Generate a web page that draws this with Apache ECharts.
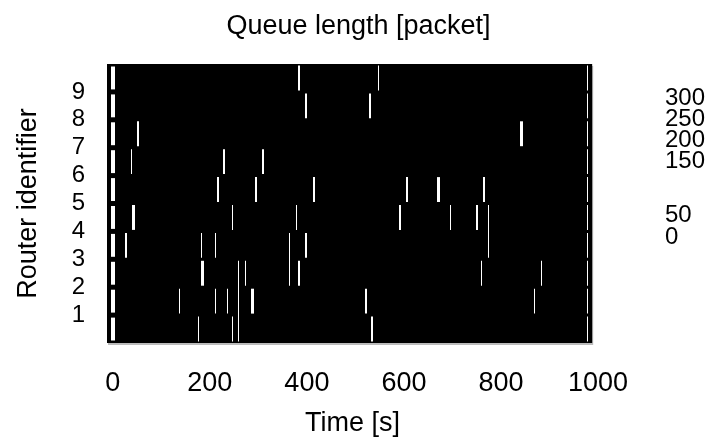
<!DOCTYPE html>
<html>
<head>
<meta charset="utf-8">
<script src="https://cdn.jsdelivr.net/npm/echarts@6/dist/echarts.min.js"></script>
<style>
  html, body { margin: 0; padding: 0; background: #fff; }
  #chart { width: 717px; height: 447px; }
</style>
</head>
<body>
<div id="chart"></div>
<script>
// ticks
const xTicks = [0, 200, 400, 600, 800, 1000];
const routerTicks = [1, 2, 3, 4, 5, 6, 7, 8, 9];
const colorbarLabels = ['300', '250', '200', '150', '50', '0'];

// time span covered by the image [s]
const timeSpan = [-12, 988];

// bars present in every row (start of run, end of run) [s]
const edgeBars = [[-4, 4], [977, 979]];

// queue spikes per row, [start, end] in seconds (row 0 = bottom)
const row0 = [[175, 177], [246, 248], [533, 537]];
const row1 = [[136, 138], [210, 212], [235, 237], [284, 290], [520, 524], [868, 870]];
const row2 = [[181, 187], [272, 274], [382, 386], [759, 761], [882, 884]];
const row3 = [[26, 30], [182, 184], [210, 212], [396, 400]];
const row4 = [[39, 45], [246, 248], [377, 379], [590, 594], [694, 696], [748, 752]];
const row5 = [[214, 218], [293, 297], [412, 416], [604, 608], [669, 675], [763, 767]];
const row6 = [[37, 39], [228, 232], [307, 311]];
const row7 = [[49, 53], [839, 845]];
const row8 = [[396, 400], [529, 533]];
const row9 = [[381, 385], [546, 548]];
const rows = [row0, row1, row2, row3, row4, row5, row6, row7, row8, row9];

// spikes that run over several rows: [start, end, fromRow, toRow]
const spanning = [[258, 260, 0, 2], [363, 365, 2, 3], [773, 775, 3, 4]];

// build custom series data: [start, end, fromRow, toRow, inset]
const spikeData = [];
rows.forEach(function (list, r) {
    edgeBars.forEach(function (b, i) { spikeData.push([b[0], b[1], r, r, i === 0 ? 2.5 : 1.5]); });
    list.forEach(function (s) { spikeData.push([s[0], s[1], r, r, 1.5]); });
});
spanning.forEach(function (s) { spikeData.push([s[0], s[1], s[2], s[3], 1.5]); });

var dom = document.getElementById('chart');
var myChart = echarts.init(dom, null, { renderer: 'canvas' });

const font = 'Liberation Sans';
const colorbarY = [98, 119, 140, 161, 215, 237];

const option = {
    animation: false,
    title: {
        text: 'Queue length [packet]',
        left: 'center',
        top: 8,
        textStyle: { fontFamily: font, fontSize: 27, fontWeight: 'normal', color: '#000' }
    },
    grid: { left: 107, right: 119, top: 64, bottom: 104 },
    xAxis: {
        type: 'value',
        min: -12,
        max: 1000,
        name: 'Time [s]',
        nameLocation: 'middle',
        nameGap: 67,
        nameTextStyle: { fontFamily: font, fontSize: 27, color: '#000' },
        axisLine: { show: false },
        axisTick: { show: false },
        splitLine: { show: false },
        axisLabel: {
            customValues: xTicks,
            formatter: function (v) { return String(v); },
            margin: 27,
            fontFamily: font,
            fontSize: 27,
            color: '#000'
        }
    },
    yAxis: {
        type: 'value',
        min: 0,
        max: 10,
        name: 'Router identifier',
        nameLocation: 'middle',
        nameGap: 65,
        nameTextStyle: { fontFamily: font, fontSize: 27, color: '#000' },
        axisLine: { show: false },
        axisTick: { show: false },
        splitLine: { show: false },
        axisLabel: {
            customValues: routerTicks,
            margin: 22,
            fontFamily: font,
            fontSize: 24,
            color: '#000'
        }
    },
    graphic: colorbarLabels.map(function (t, i) {
        return {
            type: 'text',
            x: 665,
            y: colorbarY[i],
            style: {
                text: t,
                font: '24px "Liberation Sans"',
                fill: '#000',
                align: 'left',
                verticalAlign: 'middle'
            }
        };
    }),
    series: [
        {
            type: 'custom',
            silent: true,
            data: [[timeSpan[0], timeSpan[1]]],
            encode: { x: [0, 1] },
            renderItem: function (params, api) {
                var p0 = api.coord([api.value(0), 10]);
                var p1 = api.coord([api.value(1), 0]);
                return {
                    type: 'rect',
                    shape: { x: p0[0], y: p0[1], width: p1[0] - p0[0], height: p1[1] - p0[1] },
                    style: { fill: '#000', shadowColor: '#bbb', shadowOffsetX: 1, shadowOffsetY: 2 }
                };
            }
        },
        {
            type: 'custom',
            silent: true,
            data: spikeData,
            encode: { x: [0, 1], y: [2, 3] },
            renderItem: function (params, api) {
                var fromRow = api.value(2), toRow = api.value(3), inset = api.value(4);
                var p0 = api.coord([api.value(0), toRow + 1]);
                var p1 = api.coord([api.value(1), fromRow]);
                var x = Math.round(p0[0]);
                var w = Math.max(1, Math.round(p1[0]) - x);
                return {
                    type: 'rect',
                    shape: { x: x, y: p0[1] + inset, width: w, height: p1[1] - p0[1] - 2 * inset },
                    style: { fill: '#fff' }
                };
            }
        }
    ]
};
myChart.setOption(option);
</script>
</body>
</html>
